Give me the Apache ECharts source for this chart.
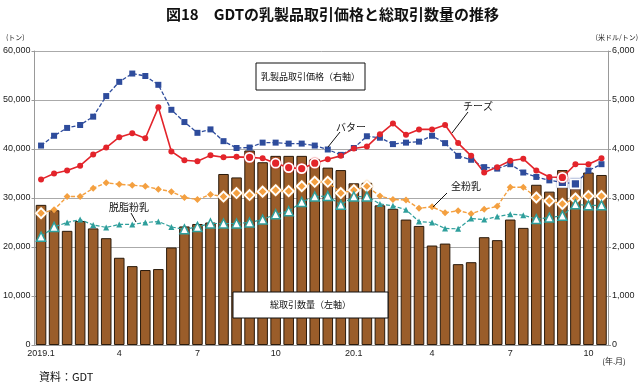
<!DOCTYPE html>
<html><head><meta charset="utf-8">
<script src="https://cdn.jsdelivr.net/npm/echarts@6/dist/echarts.min.js"></script>
<style>html,body{margin:0;padding:0;background:#fff}#c{width:640px;height:384px}</style>
</head><body><div id="c"></div>
<script>
// GDT auctions (two per month), 2019.1 - 2020.10
const auctions = [
 '2019.01a','2019.01b','2019.02a','2019.02b','2019.03a','2019.03b','2019.04a','2019.04b','2019.05a','2019.05b','2019.06a','2019.06b',
 '2019.07a','2019.07b','2019.08a','2019.08b','2019.09a','2019.09b','2019.10a','2019.10b','2019.11a','2019.11b','2019.12a','2019.12b',
 '2020.01a','2020.01b','2020.02a','2020.02b','2020.03a','2020.03b','2020.04a','2020.04b','2020.05a','2020.05b','2020.06a','2020.06b',
 '2020.07a','2020.07b','2020.08a','2020.08b','2020.09a','2020.09b','2020.10a','2020.10b'];
const tickLabels = ['2019.1','4','7','10','20.1','4','7','10'];
const tickEvery = 6;
// total traded volume (tonnes, left axis)
const volume = [28600,27500,23300,25300,23800,21800,17800,16100,15300,15500,19900,24200,
 24700,25000,34900,34200,39700,37300,38600,38600,38600,37900,36200,35700,
 33000,33100,28500,27800,25600,24300,20300,20700,16500,16900,22000,21400,
 25600,23900,32700,31300,35700,33700,35200,34700];
// prices (USD/t, right axis)
const butter = [4070,4270,4430,4490,4660,5080,5370,5540,5490,5310,4800,4550,
 4330,4400,4160,4020,4030,4130,4130,4110,4110,4070,3990,3880,
 4020,4260,4230,4100,4130,4150,4270,4120,3860,3780,3630,3600,
 3690,3520,3430,3360,3320,3290,3560,3690];
const cheese = [3380,3500,3560,3660,3890,4030,4240,4320,4220,4850,3950,3770,
 3750,3870,3830,3840,3830,3810,3710,3620,3600,3710,3790,3860,
 4010,4050,4300,4520,4290,4400,4400,4490,4120,3860,3520,3630,
 3760,3800,3560,3430,3420,3690,3690,3810];
const wmp = [2690,2760,3030,3030,3200,3310,3280,3260,3240,3180,3130,3010,
 2970,3070,3030,3100,3060,3130,3160,3140,3240,3330,3330,3100,
 3160,3240,3040,2970,2960,2790,2820,2700,2740,2680,2770,2830,
 3220,3220,3010,2940,2880,2990,3040,3040];
const smp = [2210,2410,2500,2560,2450,2400,2460,2460,2500,2520,2410,2360,
 2410,2480,2480,2480,2500,2560,2670,2730,2920,3030,3040,2860,
 3030,3030,2880,2840,2760,2520,2500,2380,2370,2580,2560,2620,
 2670,2650,2570,2600,2640,2870,2850,2850];

const JP = '"Noto Sans CJK JP","Noto Sans",sans-serif';
const NUM = '"Liberation Sans","Noto Sans CJK JP",sans-serif';

function lineSeries(name, vals, color, symbol, small, big, dashed, width, hollowBig) {
  return {
    name, type: 'line', yAxisIndex: 1, z: 5,
    symbol, symbolSize: small, showAllSymbol: true,
    lineStyle: { color, width, type: dashed ? [4, 2] : 'solid' },
    itemStyle: { color },
    data: vals.map((v, i) => {
      const inBar = v * 10 < volume[i];
      if (!inBar) return v;
      return {
        value: v, symbolSize: big,
        itemStyle: hollowBig
          ? { color: '#fff', borderColor: color, borderWidth: 1.5 }
          : { color, borderColor: '#fff', borderWidth: 1.8, shadowColor: color, shadowBlur: 1.5 }
      };
    }),
    animation: false
  };
}

const chart = echarts.init(document.getElementById('c'), null, { renderer: 'canvas' });
chart.setOption({
  animation: false,
  title: {
    text: '図18　GDTの乳製品取引価格と総取引数量の推移', left: 161, top: 2,
    textStyle: { fontFamily: JP, fontSize: 15, fontWeight: 'bold', color: '#111' }
  },
  grid: { left: 33, right: 32, top: 51, bottom: 39 },
  xAxis: {
    type: 'category', data: auctions, boundaryGap: true,
    axisLine: { lineStyle: { color: '#999' } },
    axisTick: { interval: 0, length: 4, lineStyle: { color: '#999' } },
    axisLabel: {
      interval: (i) => i % tickEvery === 0,
      formatter: (v, i) => tickLabels[Math.round(i / tickEvery)] || '',
      fontFamily: NUM, fontSize: 9, color: '#222', margin: 4
    },
    splitLine: { show: false }
  },
  yAxis: [
    {
      type: 'value', min: 0, max: 60000, interval: 10000, position: 'left',
      axisLine: { show: true, lineStyle: { color: '#999' } },
      axisTick: { show: true, length: 3, lineStyle: { color: '#999' } },
      axisLabel: { formatter: (v) => v.toLocaleString('en-US'), fontFamily: NUM, fontSize: 9, color: '#222', margin: 4 },
      splitLine: { lineStyle: { color: '#aaa', width: 1 } }
    },
    {
      type: 'value', min: 0, max: 6000, interval: 1000, position: 'right',
      axisLine: { show: true, lineStyle: { color: '#999' } },
      axisTick: { show: true, length: 3, lineStyle: { color: '#999' } },
      axisLabel: { formatter: (v) => v.toLocaleString('en-US'), fontFamily: NUM, fontSize: 9, color: '#222', margin: 4 },
      splitLine: { show: false }
    }
  ],
  series: [
    {
      name: '総取引数量', type: 'bar', yAxisIndex: 0, data: volume, barCategoryGap: '19%', z: 2,
      itemStyle: { color: '#9a5d2a', borderColor: '#2b1b0c', borderWidth: 1 }
    },
    lineSeries('全粉乳', wmp, '#f4a040', 'diamond', 7, 10, true, 1.4, false),
    lineSeries('脱脂粉乳', smp, '#2f9f9c', 'triangle', 6, 9, true, 1.2, true),
    lineSeries('バター', butter, '#2e4c9c', 'rect', 6, 9, true, 1.3, false),
    lineSeries('チーズ', cheese, '#e3242b', 'circle', 6, 9, false, 1.6, false)
  ],
  graphic: [
    { type: 'text', z: 100, style: { x: 6, y: 37, text: '(トン)', font: '7px ' + JP, fill: '#222', align: 'left', verticalAlign: 'middle' } },
    { type: 'text', z: 100, style: { x: 638, y: 37, text: '(米ドル/トン)', font: '7px ' + JP, fill: '#222', align: 'right', verticalAlign: 'middle' } },
    { type: 'text', z: 100, style: { x: 614, y: 361, text: '(年.月)', font: '8px ' + JP, fill: '#222', align: 'center', verticalAlign: 'middle' } },
    { type: 'text', z: 100, style: { x: 39, y: 377, text: '資料：GDT', font: '11px ' + JP, fill: '#111', align: 'left', verticalAlign: 'middle' } },
    { type: 'rect', z: 100, shape: { x: 256, y: 63, width: 109, height: 27 }, style: { fill: '#fff', stroke: '#111', lineWidth: 1 } },
    { type: 'text', z: 101, style: { x: 310.5, y: 76.5, text: '乳製品取引価格（右軸）', font: '9px ' + JP, fill: '#111', align: 'center', verticalAlign: 'middle' } },
    { type: 'rect', z: 100, shape: { x: 233, y: 292, width: 155, height: 26 }, style: { fill: '#fff', stroke: '#111', lineWidth: 1 } },
    { type: 'text', z: 101, style: { x: 310.5, y: 305, text: '総取引数量（左軸）', font: '9px ' + JP, fill: '#111', align: 'center', verticalAlign: 'middle' } },
    { type: 'text', z: 100, style: { x: 351, y: 127, text: 'バター', font: '10px ' + JP, fill: '#111', align: 'center', verticalAlign: 'middle' } },
    { type: 'line', z: 100, shape: { x1: 340, y1: 132, x2: 328, y2: 147 }, style: { stroke: '#111', lineWidth: 1 } },
    { type: 'text', z: 100, style: { x: 478, y: 106, text: 'チーズ', font: '10px ' + JP, fill: '#111', align: 'center', verticalAlign: 'middle' } },
    { type: 'line', z: 100, shape: { x1: 468, y1: 112, x2: 452, y2: 133 }, style: { stroke: '#111', lineWidth: 1 } },
    { type: 'text', z: 100, style: { x: 466, y: 186, text: '全粉乳', font: '10px ' + JP, fill: '#111', align: 'center', verticalAlign: 'middle' } },
    { type: 'line', z: 100, shape: { x1: 447, y1: 193, x2: 433, y2: 207 }, style: { stroke: '#111', lineWidth: 1 } },
    { type: 'text', z: 100, style: { x: 129, y: 207, text: '脱脂粉乳', font: '10px ' + JP, fill: '#111', align: 'center', verticalAlign: 'middle' } },
    { type: 'line', z: 100, shape: { x1: 131, y1: 213, x2: 136, y2: 222 }, style: { stroke: '#111', lineWidth: 1 } }
  ]
});
</script>
</body></html>
